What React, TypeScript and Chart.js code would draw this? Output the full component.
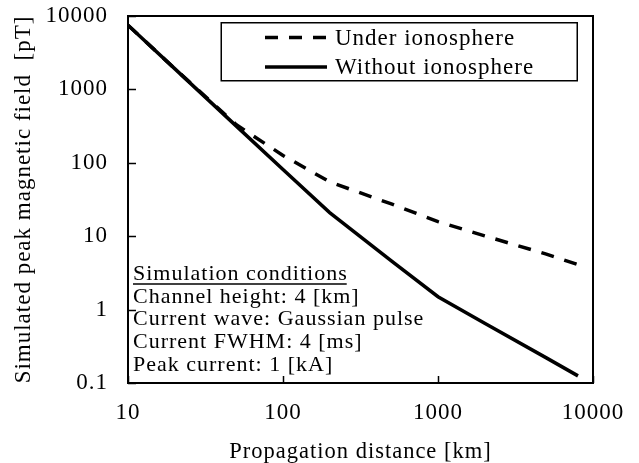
import React, { useEffect, useRef } from 'react';
import { Chart, registerables } from 'chart.js';

Chart.register(...registerables);

// ---- data ----
const distances = [10, 20, 50, 100, 200, 500, 1000, 2000, 5000, 8000];
const underIonosphere = [7500, 1920, 330, 126, 55, 27.5, 15.8, 10.1, 5.7, 4.1];
const withoutIonosphere = [7500, 1920, 316, 81, 21, 4.6, 1.5, 0.65, 0.22, 0.125];
const seriesLabels = ['Under ionosphere', 'Without ionosphere'];
const xTickValues = [10, 100, 1000, 10000];
const yTickValues = [0.1, 1, 10, 100, 1000, 10000];
const xTitle = 'Propagation distance [km]';
const yTitle = 'Simulated peak magnetic field  [pT]';
const conditionTitle = 'Simulation conditions';
const conditionLines = [
  'Channel height: 4 [km]',
  'Current wave: Gaussian pulse',
  'Current FWHM: 4 [ms]',
  'Peak current: 1 [kA]',
];

const FONT = '"Liberation Serif", "Times New Roman", serif';

const spacingPlugin = {
  id: 'spacing',
  beforeUpdate(chart: any) { chart.ctx.letterSpacing = '1px'; },
  beforeLayout(chart: any) { chart.ctx.letterSpacing = '1px'; },
  beforeDraw(chart: any) { chart.ctx.letterSpacing = '1px'; },
};

const framePlugin = {
  id: 'frame',
  afterDatasetsDraw(chart: any) {
    const { ctx, chartArea: a, scales } = chart;
    ctx.save();
    ctx.strokeStyle = '#000';
    ctx.lineWidth = 2;
    ctx.strokeRect(a.left, a.top, a.right - a.left, a.bottom - a.top);
    ctx.lineWidth = 1.5;
    ctx.beginPath();
    scales.x.ticks.forEach((t: any) => {
      const px = Math.round(scales.x.getPixelForValue(t.value)) + 0.5;
      ctx.moveTo(px, a.bottom);
      ctx.lineTo(px, a.bottom - 7);
    });
    scales.y.ticks.forEach((t: any) => {
      const py = Math.round(scales.y.getPixelForValue(t.value)) + 0.5;
      ctx.moveTo(a.left, py);
      ctx.lineTo(a.left + 8, py);
    });
    ctx.stroke();
    ctx.restore();
  },
};

const legendPlugin = {
  id: 'boxLegend',
  afterDraw(chart: any) {
    const { ctx } = chart;
    ctx.save();
    ctx.letterSpacing = '1px';
    ctx.strokeStyle = '#000';
    ctx.lineWidth = 1.5;
    ctx.strokeRect(221.25, 22.75, 356, 58);
    const rows = [37.5, 67];
    chart.data.datasets.forEach((ds: any, i: number) => {
      const y = rows[i];
      ctx.beginPath();
      ctx.lineWidth = 3.5;
      ctx.setLineDash(ds.borderDash || []);
      ctx.moveTo(265, y);
      ctx.lineTo(327, y);
      ctx.stroke();
      ctx.setLineDash([]);
      ctx.fillStyle = '#000';
      ctx.font = `23px ${FONT}`;
      ctx.textAlign = 'left';
      ctx.textBaseline = 'middle';
      ctx.fillText(ds.label, 335, y + 1);
    });
    ctx.restore();
  },
};

const conditionsPlugin = {
  id: 'conditions',
  afterDraw(chart: any) {
    const { ctx, chartArea: a } = chart;
    ctx.save();
    ctx.letterSpacing = '1px';
    ctx.fillStyle = '#000';
    ctx.strokeStyle = '#000';
    ctx.font = `22px ${FONT}`;
    ctx.textAlign = 'left';
    ctx.textBaseline = 'middle';
    const x = a.left + 5;
    const y0 = 274;
    const step = 22.75;
    ctx.fillText(conditionTitle, x, y0);
    const w = ctx.measureText(conditionTitle).width - 1;
    ctx.lineWidth = 1.5;
    ctx.beginPath();
    ctx.moveTo(x, y0 + 10);
    ctx.lineTo(x + w, y0 + 10);
    ctx.stroke();
    conditionLines.forEach((line, i) => {
      ctx.fillText(line, x, y0 + step * (i + 1));
    });
    ctx.restore();
  },
};

export default function App() {
  const ref = useRef<HTMLCanvasElement>(null);

  useEffect(() => {
    Chart.defaults.font.family = FONT;
    Chart.defaults.color = '#000';
    const chart = new Chart(ref.current as HTMLCanvasElement, {
      type: 'line',
      data: {
        datasets: [
          {
            label: seriesLabels[0],
            data: distances.map((d, i) => ({ x: d, y: underIonosphere[i] })),
            borderColor: '#000',
            borderWidth: 3.5,
            borderDash: [13, 11],
            pointRadius: 0,
            tension: 0,
            fill: false,
          },
          {
            label: seriesLabels[1],
            data: distances.map((d, i) => ({ x: d, y: withoutIonosphere[i] })),
            borderColor: '#000',
            borderWidth: 3.5,
            pointRadius: 0,
            tension: 0,
            fill: false,
          },
        ],
      },
      options: {
        animation: false,
        responsive: false,
        maintainAspectRatio: false,
        layout: { padding: { top: 16, right: 46, left: 0, bottom: 0 } },
        plugins: { legend: { display: false }, tooltip: { enabled: false } },
        scales: {
          x: {
            type: 'logarithmic',
            min: 10,
            max: 10000,
            afterBuildTicks: (s: any) => { s.ticks = xTickValues.map((v) => ({ value: v })); },
            afterFit: (s: any) => {
              s.height = 80;
              s.paddingLeft = 0; s.paddingRight = 0; s.paddingTop = 0; s.paddingBottom = 0;
            },
            grid: { display: false, drawTicks: false },
            border: { display: false },
            ticks: {
              color: '#000',
              font: { size: 23, lineHeight: 1 },
              padding: 18,
              maxRotation: 0,
              autoSkip: false,
              callback: (v: any) => String(v),
            },
            title: {
              display: true,
              text: xTitle,
              color: '#000',
              font: { size: 22.5, lineHeight: 1 },
              padding: { top: 0, bottom: 0 },
            },
          },
          y: {
            type: 'logarithmic',
            min: 0.1,
            max: 10000,
            afterBuildTicks: (s: any) => { s.ticks = yTickValues.map((v) => ({ value: v })); },
            afterFit: (s: any) => {
              s.width = 128;
              s.paddingLeft = 0; s.paddingRight = 0; s.paddingTop = 0; s.paddingBottom = 0;
            },
            grid: { display: false, drawTicks: false },
            border: { display: false },
            ticks: {
              color: '#000',
              font: { size: 23, lineHeight: 1 },
              padding: 20,
              autoSkip: false,
              callback: (v: any) => String(v),
            },
            title: {
              display: true,
              text: yTitle,
              color: '#000',
              font: { size: 23, lineHeight: 1 },
              padding: { top: 12, bottom: 0 },
            },
          },
        },
      },
      plugins: [spacingPlugin, framePlugin, legendPlugin, conditionsPlugin],
    } as any);
    return () => chart.destroy();
  }, []);

  return (
    <div style={{ position: 'absolute', left: 0, top: 0, width: 639, height: 463, background: '#fff' }}>
      <canvas ref={ref} width={639} height={463} style={{ display: 'block', width: 639, height: 463 }} />
    </div>
  );
}
